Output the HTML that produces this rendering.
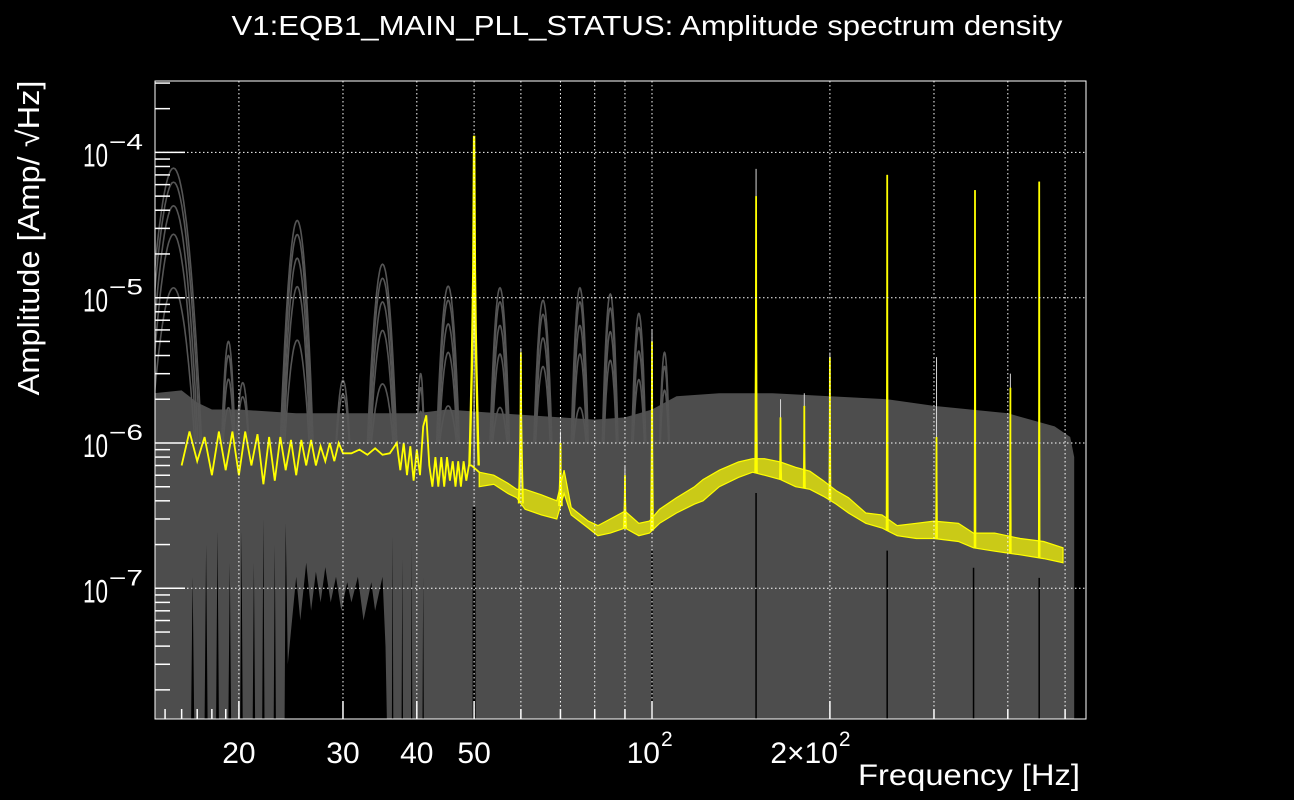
<!DOCTYPE html>
<html><head><meta charset="utf-8"><style>
html,body{margin:0;padding:0;background:#000;}
svg{display:block;}
text{font-family:"Liberation Sans",sans-serif;fill:#fff;}
</style></head><body>
<svg id="chart" width="1294" height="800" viewBox="0 0 1294 800" xmlns="http://www.w3.org/2000/svg">
<rect x="0" y="0" width="1294" height="800" fill="#000"/>
<g id="plot"></g>
<text x="647" y="35" text-anchor="middle" font-size="28" textLength="831" lengthAdjust="spacingAndGlyphs">V1:EQB1_MAIN_PLL_STATUS: Amplitude spectrum density</text>
<text transform="translate(39,238) rotate(-90)" text-anchor="middle" font-size="31" textLength="315" lengthAdjust="spacingAndGlyphs">Amplitude [Amp/ √Hz]</text>
<text x="1080" y="785" text-anchor="end" font-size="30" textLength="222" lengthAdjust="spacingAndGlyphs">Frequency [Hz]</text>
</svg>
<script>
// ---- data ----
const xTickVals = [20, 30, 40, 50, 100, 200];
const xTickLabels = ["20", "30", "40", "50", "10|2", "2×10|2"];
const gridFreqs = [20, 30, 40, 50, 60, 70, 80, 90, 100, 200, 300, 400, 500];
const yDecades = [-4, -5, -6, -7];

// median (yellow) low-frequency trace
const medFreq = [16.0,16.5,17,17.5,18,18.5,19,19.5,20,20.5,21,21.5,22,22.5,23,23.5,24,24.5,25,25.5,26,26.5,27,27.5,28,28.5,29,29.5,30,31,32,33,34,35,36,37,37.5,38,38.5,39,39.5,40,40.5,41,41.5,42,42.5,43,43.5,44,44.5,45,45.5,46,46.5,47,47.5,48,48.5,49,49.5];
const medVal = [7e-7,1.2e-6,7.5e-7,1.1e-6,6e-7,1.2e-6,6.5e-7,1.2e-6,6e-7,1.2e-6,7e-7,1.15e-6,5.2e-7,1.1e-6,5.5e-7,1.1e-6,6.5e-7,1.05e-6,6e-7,1.05e-6,7e-7,1.05e-6,7e-7,9.5e-7,7.5e-7,1e-6,7.5e-7,1e-6,8.5e-7,8.5e-7,9e-7,8.3e-7,9.2e-7,8.3e-7,8.5e-7,1e-6,6.5e-7,1e-6,6e-7,9.5e-7,5.5e-7,9e-7,6e-7,1.3e-6,1.55e-6,7e-7,5e-7,8e-7,5e-7,8e-7,5e-7,8e-7,5.5e-7,7.5e-7,5e-7,7.5e-7,5e-7,7.5e-7,5.5e-7,7e-7,7e-7];

// median (yellow) noisy band above 50 Hz
const bandFreq = [51,54,57,59,61,65,69,71,73,78,81,85,90,95,99,103,110,118,122,130,140,148,155,165,175,185,195,205,215,230,245,260,280,300,330,350,380,420,460,496];
const bandLo = [5e-7,5.2e-7,4.5e-7,4.2e-7,3.5e-7,3.2e-7,3e-7,4.5e-7,3.2e-7,2.6e-7,2.3e-7,2.4e-7,2.6e-7,2.3e-7,2.4e-7,2.8e-7,3.3e-7,3.8e-7,4e-7,5e-7,5.8e-7,6.3e-7,6e-7,5.6e-7,5e-7,4.8e-7,4.3e-7,3.8e-7,3.3e-7,2.8e-7,2.6e-7,2.3e-7,2.2e-7,2.2e-7,2.1e-7,1.9e-7,1.8e-7,1.7e-7,1.6e-7,1.5e-7];
const bandHi = [6.3e-7,6e-7,5.3e-7,4.8e-7,4.8e-7,4.4e-7,4e-7,6.5e-7,3.6e-7,2.9e-7,2.7e-7,3e-7,3.4e-7,2.8e-7,2.9e-7,3.5e-7,4.2e-7,5e-7,5.6e-7,6.5e-7,7.4e-7,7.8e-7,7.8e-7,7.4e-7,6.8e-7,6.4e-7,5.5e-7,4.7e-7,4.2e-7,3.3e-7,3.2e-7,2.7e-7,2.8e-7,2.9e-7,2.8e-7,2.4e-7,2.4e-7,2.2e-7,2.1e-7,1.9e-7];

// spectral lines
const spikeFreq = [50,60,70,90,100,150,165,181,200,250,303,352,404,452];
const spikePeak = [1.3e-4,4.2e-6,1e-6,6e-7,5e-6,5e-5,1.5e-6,1.8e-6,3.9e-6,7e-5,1.1e-6,5.5e-5,2.4e-6,6.3e-5];
const spikeGrayPeak = [1.3e-4,4.5e-6,1.2e-6,7e-7,6e-6,7.7e-5,2e-6,2.2e-6,4.2e-6,7e-5,3.9e-6,5.5e-5,3e-6,6.3e-5];
const spikeHalfWidth = [0.9,0.5,0.4,0.4,0.4,0.5,0.4,0.4,0.5,0.6,0.6,0.6,0.7,0.7];
const blackLineFreq = [50,100,150,250,350,452];

// gray envelope (max of all spectra)
const envFreq = [14.4,16,17,18,20,25,30,40,45,55,70,80,90,100,110,130,160,200,250,300,400,480,510,518];
const envVal = [2.2e-6,2.3e-6,1.9e-6,1.7e-6,1.7e-6,1.6e-6,1.6e-6,1.6e-6,1.7e-6,1.6e-6,1.5e-6,1.45e-6,1.5e-6,1.7e-6,2.1e-6,2.2e-6,2.2e-6,2.1e-6,2e-6,1.8e-6,1.6e-6,1.3e-6,1.1e-6,8e-7];
// gray lower envelope (min of all spectra): narrow dropouts
const lowFreq = [14.4,16.6,16.7,16.8,17.5,17.6,17.7,18.3,18.4,18.5,19.2,19.3,19.4,20.1,20.2,20.3,21.1,21.2,21.3,21.9,22,22.1,22.9,23,23.1,23.9,24,24.2,24.6,25,25.4,26,26.5,27,27.5,28,28.6,29.2,29.8,30.5,31,31.8,32.5,33.5,34,35,35.4,35.6,36.3,36.4,36.5,37.7,37.8,37.9,39.1,39.2,39.3,40.9,41,41.1,42,518];
const lowVal = [1e-8,1e-8,1.2e-7,1e-8,1e-8,2e-7,1e-8,1e-8,2.5e-7,1e-8,1e-8,1.5e-7,1e-8,1e-8,2.5e-7,1e-8,1e-8,1.5e-7,1e-8,1e-8,3e-7,1e-8,1e-8,2e-7,1e-8,1e-8,2.8e-7,3e-8,6e-8,1.2e-7,6e-8,1.5e-7,7e-8,1.3e-7,8e-8,1.4e-7,8e-8,1.2e-7,7e-8,1.1e-7,8e-8,1.2e-7,6e-8,1.1e-7,7e-8,1.2e-7,4e-8,1e-8,1e-8,2.3e-7,1e-8,1e-8,1.6e-7,1e-8,1e-8,2e-7,1e-8,1e-8,1.2e-7,1e-8,1e-8,1e-8];

// gray harmonic bumps from individual spectra
const bumpFreq = [15.5,19.2,20.3,25.1,30,35,40.6,45.2,55.3,65.4,75.5,85,95,105];
const bumpPeak = [7.8e-5,5e-6,2.6e-6,3.4e-5,2.7e-6,1.7e-5,3e-6,1.2e-5,1.17e-5,9.6e-6,1.17e-5,1.06e-5,7.8e-6,4.2e-6];
const bumpWidth = [1.8,0.5,0.5,1.6,0.8,2,0.6,2,2.1,2.3,2.5,2.6,2.6,2];
const bumpLayers = [1,0.8,0.55,0.35,0.15];

// ---- axes ----
const X0=155, X1=1086, Y0=81, Y1=719;
function xs(f){ return 652 + 591*Math.log10(f/100); }
function ys(a){ return 443 - 145.3*(Math.log10(a)+6); }
function yc(a){ return Math.max(Y0, Math.min(Y1, ys(a))); }
const NS="http://www.w3.org/2000/svg";
const plot=document.getElementById('plot');
function mk(tag, attrs, parent){
  const e=document.createElementNS(NS,tag);
  for(const k in attrs) e.setAttribute(k, attrs[k]);
  (parent||plot).appendChild(e); return e;
}
const clip=mk('clipPath',{id:'pc'});
mk('rect',{x:X0,y:Y0,width:X1-X0,height:Y1-Y0},clip);
const g=mk('g',{'clip-path':'url(#pc)'});



function interp(fa, va, f){
  if(f<=fa[0]) return va[0];
  for(let i=1;i<fa.length;i++){ if(f<=fa[i]){ const t=(Math.log(f)-Math.log(fa[i-1]))/(Math.log(fa[i])-Math.log(fa[i-1])); return Math.exp(Math.log(va[i-1])*(1-t)+Math.log(va[i])*t);} }
  return va[va.length-1];
}
let pts=[];
envFreq.forEach((f,i)=>pts.push(xs(f).toFixed(1)+','+yc(envVal[i]).toFixed(1)));
pts.push(xs(envFreq[envFreq.length-1]).toFixed(1)+','+Y1);
for(let i=lowFreq.length-1;i>=0;i--) pts.push(xs(lowFreq[i]).toFixed(1)+','+(lowVal[i]<=1e-8?Y1+2:yc(lowVal[i])).toFixed(1));
const band=mk('polygon',{points:pts.join(' '),fill:'#4d4d4d'},g);



// bumps
bumpFreq.forEach((fc,i)=>{
  bumpLayers.forEach((s,j)=>{
    const P=bumpPeak[i]*s; if(P<1.6e-6) return;
    const lp=Math.log10(P), lf=-6, hw=bumpWidth[i]*(0.7+0.3*s);
    let p=[];
    for(let k=-20;k<=20;k++){ const df=hw*k/20; const la=lp-(lp-lf)*(df/hw)*(df/hw); p.push(xs(fc+df).toFixed(1)+','+yc(Math.pow(10,la)).toFixed(1)); }
    const pl=mk('polyline',{points:p.join(' '),fill:'none',stroke:'#555','stroke-width':1.6},g);
    
    
  });
});

// black lines under spectral lines
blackLineFreq.forEach(f=>{
  const l=mk('line',{x1:xs(f),x2:xs(f),y1:ys(interp(bandFreq,bandLo,f))+20,y2:Y1,stroke:'#000','stroke-width':f===50?3:1.5},g);
  
  
});

// grid
gridFreqs.forEach(f=>{
  const l=mk('line',{x1:xs(f),x2:xs(f),y1:Y0,y2:Y1,stroke:'#fff','stroke-width':1,'stroke-dasharray':'1.5,2.5'});
  
  
});
yDecades.forEach(d=>{
  const l=mk('line',{x1:X0,x2:X1,y1:ys(Math.pow(10,d)),y2:ys(Math.pow(10,d)),stroke:'#fff','stroke-width':1,'stroke-dasharray':'1.5,2.5'});
  
  
});

// gray spike lines (max)
spikeFreq.forEach((f,i)=>{
  const l=mk('line',{x1:xs(f),x2:xs(f),y1:yc(spikeGrayPeak[i]),y2:yc(interp(bandFreq,bandHi,f)),stroke:'#d8d8d8','stroke-width':1},g);
  
  
});

// yellow band
let bp=[];
bandFreq.forEach((f,i)=>bp.push(xs(f).toFixed(1)+','+yc(bandHi[i]).toFixed(1)));
for(let i=bandFreq.length-1;i>=0;i--) bp.push(xs(bandFreq[i]).toFixed(1)+','+yc(bandLo[i]).toFixed(1));
const yb=mk('polygon',{points:bp.join(' '),fill:'#ffff00','fill-opacity':0.7,stroke:'#ffff00','stroke-width':1.2},g);



// yellow low-frequency trace
let mp=medFreq.map((f,i)=>xs(f).toFixed(1)+','+yc(medVal[i]).toFixed(1));
mp.push(xs(bandFreq[0]).toFixed(1)+','+yc(bandHi[0]).toFixed(1));
const ml=mk('polyline',{points:mp.join(' '),fill:'none',stroke:'#ffff00','stroke-width':1.8},g);



// yellow spikes
spikeFreq.forEach((f,i)=>{
  const base=f<50.5?interp(medFreq,medVal,f):interp(bandFreq,bandLo,f);
  const hw=spikeHalfWidth[i], lp=Math.log10(spikePeak[i]), lb=Math.log10(base);
  let p=[];
  for(let k=-6;k<=6;k++){ const t=Math.abs(k)/6; const la=lp-(lp-lb)*Math.sqrt(t); p.push(xs(f+hw*k/6).toFixed(1)+','+yc(Math.pow(10,la)).toFixed(1)); }
  const s=mk('polyline',{points:p.join(' '),fill:'none',stroke:'#ffff00','stroke-width':f===50?2.4:1.8},g);
  
  
});

// frame
const fr=mk('rect',{x:X0,y:Y0,width:X1-X0,height:Y1-Y0,fill:'none',stroke:'#fff','stroke-width':1});



// y ticks
for(let d=-8; d<=-4; d++){
  for(let m=1;m<=9;m++){
    const a=m*Math.pow(10,d), y=ys(a);
    if(y<Y0||y>Y1) continue;
    const len=m===1?30:15;
    const t=mk('line',{x1:X0,x2:X0+len,y1:y,y2:y,stroke:'#fff','stroke-width':1.5});
    
    
  }
}
// x ticks
[15,16,17,18,19,20,30,40,50,60,70,80,90,100,200,300,400,500].forEach(f=>{
  const major=xTickVals.indexOf(f)>=0;
  const t=mk('line',{x1:xs(f),x2:xs(f),y1:Y1,y2:Y1-(major?18:10),stroke:'#fff','stroke-width':1.5});
  
  
});

// y labels
yDecades.forEach(d=>{
  const y=ys(Math.pow(10,d));
  const t=mk('text',{x:83,y:y+14,'font-size':32,textLength:25,lengthAdjust:'spacingAndGlyphs'});
  t.textContent='10';
  
  
  const s=mk('text',{x:109,y:y-3,'font-size':22,textLength:34,lengthAdjust:'spacingAndGlyphs'});
  s.textContent='−'+(-d);
  
  
});
// x labels
xTickVals.forEach((f,i)=>{
  const parts=xTickLabels[i].split('|');
  const x=xs(f);
  if(parts.length===1){
    const t=mk('text',{x:x,y:763,'font-size':30,'text-anchor':'middle'});
    t.textContent=parts[0];
    
    
  } else {
    const t=mk('text',{x:x+8,y:763,'font-size':30,'text-anchor':'end'});
    t.textContent=parts[0];
    
    
    const s=mk('text',{x:x+9,y:746,'font-size':21});
    s.textContent=parts[1];
    
    
  }
});
</script>
</body></html>
